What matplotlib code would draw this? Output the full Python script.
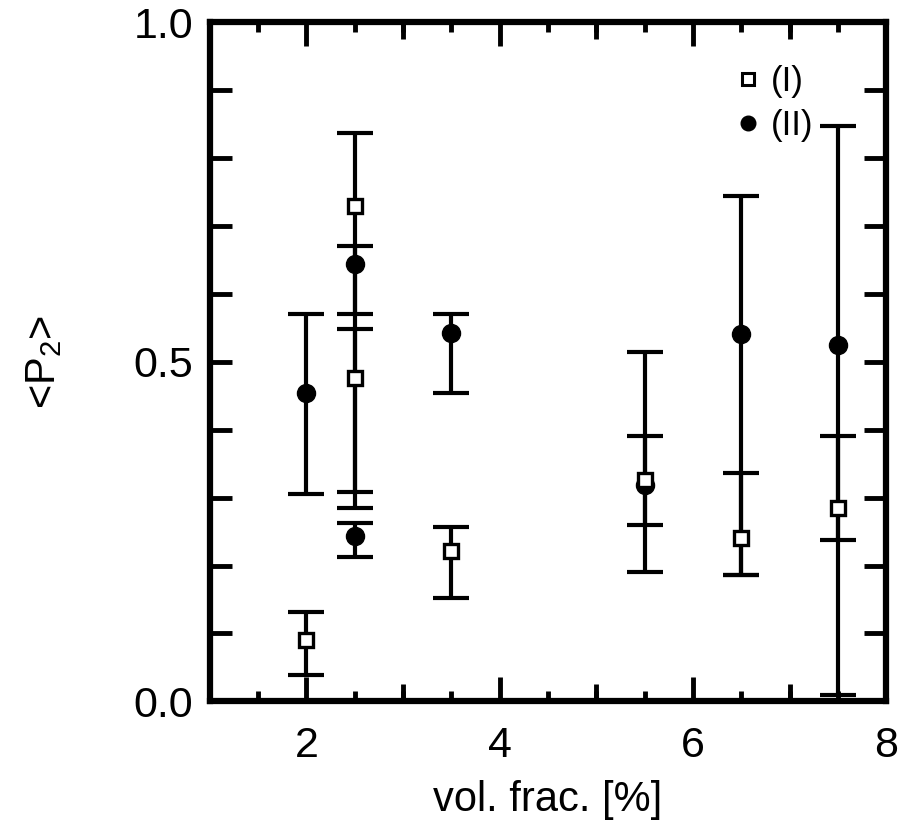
import matplotlib
matplotlib.use("Agg")
import matplotlib.pyplot as plt
from matplotlib.lines import Line2D
from matplotlib.ticker import MultipleLocator, FixedLocator

plt.rcParams['font.family'] = ['Liberation Sans', 'DejaVu Sans']
plt.rcParams['mathtext.fontset'] = 'custom'
plt.rcParams['mathtext.rm'] = 'Liberation Sans'
plt.rcParams['mathtext.default'] = 'regular'

# series (I): open squares
vf_1 = [2.0, 2.5, 2.5, 3.5, 5.5, 6.5, 7.5]
p2_1 = [0.091, 0.730, 0.476, 0.222, 0.326, 0.240, 0.285]
p2_1_lo = [0.038, 0.571, 0.284, 0.152, 0.259, 0.186, 0.237]
p2_1_hi = [0.132, 0.837, 0.548, 0.256, 0.390, 0.336, 0.390]

# series (II): filled circles
vf_2 = [2.0, 2.5, 2.5, 3.5, 5.5, 6.5, 7.5]
p2_2 = [0.454, 0.644, 0.244, 0.543, 0.319, 0.541, 0.525]
p2_2_lo = [0.306, 0.308, 0.212, 0.454, 0.191, 0.186, 0.010]
p2_2_hi = [0.571, 0.670, 0.262, 0.571, 0.514, 0.744, 0.847]

fig = plt.figure(figsize=(9.08, 8.27), dpi=100)
ax = fig.add_axes([0.231, 0.152, 0.745, 0.821])

def yerr(v, lo, hi):
    return [[a - b for a, b in zip(v, lo)], [c - a for a, c in zip(v, hi)]]

eb = dict(fmt='none', ecolor='black', elinewidth=3, capsize=13, capthick=3, zorder=2)
ax.errorbar(vf_2, p2_2, yerr=yerr(p2_2, p2_2_lo, p2_2_hi), **eb)
ax.errorbar(vf_1, p2_1, yerr=yerr(p2_1, p2_1_lo, p2_1_hi), **eb)

ax.plot(vf_2, p2_2, 'o', color='black', markersize=13, zorder=3)
ax.plot(vf_1, p2_1, 's', markerfacecolor='white', markeredgecolor='black',
        markeredgewidth=2.4, markersize=10.5, zorder=4)

ax.set_xlim(1, 8)
ax.set_ylim(0, 1)

ax.xaxis.set_major_locator(FixedLocator([2, 4, 6, 8]))
ax.xaxis.set_minor_locator(MultipleLocator(0.5))
ax.yaxis.set_major_locator(FixedLocator([0.0, 0.5, 1.0]))
ax.yaxis.set_minor_locator(MultipleLocator(0.1))
ax.set_yticklabels(['0.0', '0.5', '1.0'])

ax.tick_params(which='both', direction='in', top=True, right=True, width=3.5, color='black')
ax.tick_params(axis='x', which='major', length=17, pad=18, labelsize=31)
ax.tick_params(axis='x', which='minor', length=7)
ax.tick_params(axis='y', which='major', length=16, pad=12, labelsize=31)
ax.tick_params(axis='y', which='minor', length=16)

# long ticks at the odd integers too, top and bottom
for x in [3, 5, 7]:
    ax.plot([x, x], [0, 0.025], color='black', lw=3.5, solid_capstyle='butt', zorder=1)
    ax.plot([x, x], [1, 0.975], color='black', lw=3.5, solid_capstyle='butt', zorder=1)

for s in ax.spines.values():
    s.set_linewidth(4.5)

ax.set_xlabel('vol. frac. [%]', fontsize=30, labelpad=10)
ax.set_ylabel('<P$_2$>', fontsize=30, labelpad=50)

handles = [
    Line2D([], [], ls='none', marker='s', markerfacecolor='white', markeredgecolor='black',
           markeredgewidth=2.2, markersize=8.5),
    Line2D([], [], ls='none', marker='o', color='black', markersize=10.5),
]
ax.legend(handles, ['(I)', '(II)'], loc='upper left', bbox_to_anchor=(0.755, 0.963),
          frameon=False, fontsize=25, handlelength=0.6, handletextpad=0.35,
          labelspacing=0.33, borderpad=0)

fig.savefig('out.png', dpi=100)
